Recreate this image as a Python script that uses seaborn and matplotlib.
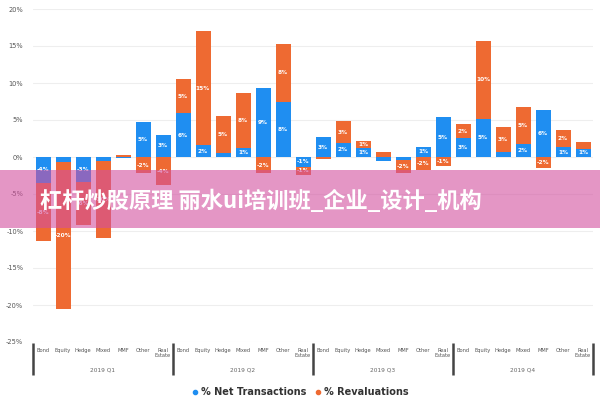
import numpy as np
import pandas as pd
import matplotlib
matplotlib.use("Agg")
import matplotlib.pyplot as plt
import matplotlib.transforms as mtransforms
import seaborn as sns
from matplotlib.lines import Line2D
from matplotlib.patches import Rectangle
from matplotlib.ticker import FuncFormatter

# values (in %)
quarters = ["2019 Q1", "2019 Q2", "2019 Q3", "2019 Q4"]
asset_types = ["Bond", "Equity", "Hedge", "Mixed", "MMF", "Other", "Real\nEstate"]

net_q1 = [-3.5, -0.7, -3.4, -0.5, -0.2, 4.7, 3.0]
reval_q1 = [-7.9, -19.9, -5.8, -10.5, 0.3, -2.2, -3.8]
net_q2 = [5.9, 1.6, 0.5, 1.2, 9.3, 7.5, -1.3]
reval_q2 = [4.6, 15.4, 5.1, 7.5, -2.2, 7.8, -1.1]
net_q3 = [2.7, 1.9, 1.2, -0.5, -0.4, 1.4, 5.4]
reval_q3 = [-0.3, 2.9, 1.0, 0.7, -1.8, -1.8, -1.2]
net_q4 = [2.6, 5.2, 0.7, 1.7, 6.3, 1.3, 1.1]
reval_q4 = [1.8, 10.5, 3.4, 5.1, -1.5, 2.4, 0.9]

banner_text = "杠杆炒股原理 丽水ui培训班_企业_设计_机构"

BLUE = "#1f8ef1"
ORANGE = "#ee6a32"

sns.set_theme(style="white")
plt.rcParams["font.family"] = ["DejaVu Sans"]
plt.rcParams["axes.unicode_minus"] = False

df = pd.DataFrame({
    "quarter": np.repeat(quarters, len(asset_types)),
    "asset": asset_types * len(quarters),
    "net": net_q1 + net_q2 + net_q3 + net_q4,
    "reval": reval_q1 + reval_q2 + reval_q3 + reval_q4,
})
df["key"] = df["quarter"] + " " + df["asset"]
# revaluations stack on net transactions when both go the same way
same_sign = np.sign(df["net"]) == np.sign(df["reval"])
df["reval_base"] = np.where(same_sign, df["net"], 0.0)

fig = plt.figure(figsize=(6, 4), dpi=100)
ax = fig.add_axes([33 / 600, 58 / 400, 560 / 600, 333 / 400])

sns.barplot(data=df, x="key", y="net", order=df["key"], color=BLUE, saturation=1,
            width=0.75, errorbar=None, ax=ax, linewidth=0)
sns.barplot(data=df, x="key", y="reval", order=df["key"], color=ORANGE, saturation=1,
            width=0.75, errorbar=None, ax=ax, linewidth=0, bottom=df["reval_base"].values)

def seg_labels(vals):
    return [f"{round(v):.0f}%" if abs(v) >= 0.95 else "" for v in vals]

ax.bar_label(ax.containers[0], labels=seg_labels(df["net"]), label_type="center",
             color="white", fontsize=4.2, fontweight="bold")
ax.bar_label(ax.containers[1], labels=seg_labels(df["reval"]), label_type="center",
             color="white", fontsize=4.2, fontweight="bold")

ax.set_xlim(-0.5, len(df) - 0.5)
ax.set_ylim(-25, 20)
ax.set_yticks(np.arange(-25, 21, 5))
ax.yaxis.set_major_formatter(FuncFormatter(lambda v, _: f"{v:.0f}%"))
ax.set_xticks(range(len(df)))
ax.set_xticklabels(df["asset"], linespacing=1.1)
ax.tick_params(axis="y", length=0, labelsize=4.8, labelcolor="#555555", pad=7)
ax.tick_params(axis="x", length=0, labelsize=3.7, labelcolor="#555555", pad=4)
ax.set_xlabel("")
ax.set_ylabel("")
ax.grid(axis="y", color="#eeeeee", linewidth=0.8)
ax.set_axisbelow(True)
sns.despine(ax=ax, left=True, bottom=True)

# group separators and quarter labels under the axis
trans = mtransforms.blended_transform_factory(ax.transData, ax.transAxes)
n = len(asset_types)
for b in np.arange(len(quarters) + 1) * n - 0.5:
    ax.plot([b, b], [-0.003, -0.1], transform=trans, color="#444444", lw=1.8,
            clip_on=False, solid_capstyle="butt")
for i, q in enumerate(quarters):
    ax.text(i * n + (n - 1) / 2, -0.085, q, transform=trans, ha="center", va="center",
            fontsize=4.2, color="#666666")

handles = [Line2D([], [], marker="o", linestyle="", color=BLUE, markersize=3),
           Line2D([], [], marker="o", linestyle="", color=ORANGE, markersize=3)]
fig.legend(handles, ["% Net Transactions", "% Revaluations"], loc="center",
           bbox_to_anchor=(0.5, 0.02), ncol=2, frameon=False,
           prop={"size": 7, "weight": "bold"}, labelcolor="#333333",
           handletextpad=0.2, columnspacing=0.8, handlelength=0.8)

# pink banner with the title over the chart
fig.patches.append(Rectangle((0, 0.43), 1, 0.145, transform=fig.transFigure,
                             facecolor="#d2509f", alpha=0.6, edgecolor="none", zorder=5))
fig.text(40 / 600, 0.497, banner_text, ha="left", va="center", color="white",
         fontsize=16, fontweight="bold", family=["Noto Sans CJK SC", "DejaVu Sans"], zorder=6)

fig.savefig("out.png", dpi=100)
